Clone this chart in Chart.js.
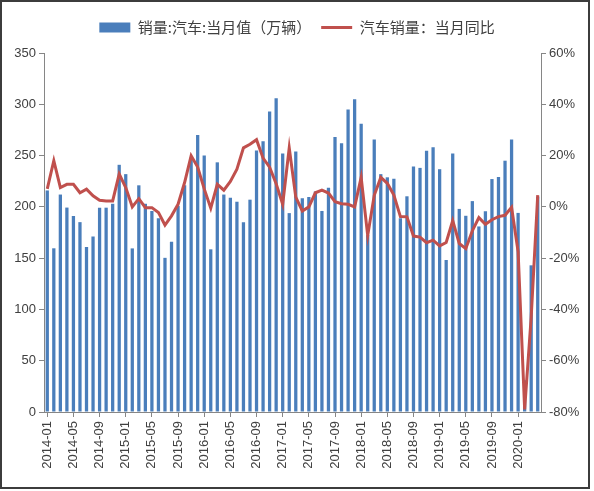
<!DOCTYPE html>
<html>
<head>
<meta charset="utf-8">
<script src="https://cdn.jsdelivr.net/npm/chart.js@4"></script>
<style>
html, body { margin: 0; padding: 0; background: #fff; }
#box { position: absolute; left: 0; top: 0; width: 594px; height: 491px; }
#frame { position: absolute; left: 0; top: 0; width: 590px; height: 489px; box-sizing: border-box; border: 2px solid #3c3c3c; pointer-events: none; }
</style>
</head>
<body>
<div id="box"><canvas id="graf1" width="594" height="491"></canvas></div>
<div id="frame"></div>
<script>
var list_months = [
    '2014-01','2014-02','2014-03','2014-04','2014-05','2014-06','2014-07','2014-08','2014-09','2014-10','2014-11','2014-12',
    '2015-01','2015-02','2015-03','2015-04','2015-05','2015-06','2015-07','2015-08','2015-09','2015-10','2015-11','2015-12',
    '2016-01','2016-02','2016-03','2016-04','2016-05','2016-06','2016-07','2016-08','2016-09','2016-10','2016-11','2016-12',
    '2017-01','2017-02','2017-03','2017-04','2017-05','2017-06','2017-07','2017-08','2017-09','2017-10','2017-11','2017-12',
    '2018-01','2018-02','2018-03','2018-04','2018-05','2018-06','2018-07','2018-08','2018-09','2018-10','2018-11','2018-12',
    '2019-01','2019-02','2019-03','2019-04','2019-05','2019-06','2019-07','2019-08','2019-09','2019-10','2019-11','2019-12',
    '2020-01','2020-02','2020-03','2020-04'
];

// 销量:汽车:当月值（万辆）
var sales_list = [
    216.0, 159.6, 212.0, 199.3, 191.1, 185.1, 160.9, 171.1, 199.2, 199.2, 203.0, 241.0,
    231.9, 159.5, 221.0, 203.0, 196.0, 189.0, 150.3, 166.0, 201.0, 221.0, 248.0, 270.0,
    250.0, 158.6, 243.4, 212.0, 209.0, 205.0, 185.0, 207.0, 255.0, 264.0, 293.0, 306.0,
    252.0, 193.9, 254.0, 208.4, 209.6, 215.0, 196.0, 218.6, 268.0, 262.0, 295.0, 305.0,
    281.0, 172.5, 265.6, 231.9, 228.8, 227.4, 188.9, 210.3, 239.4, 238.0, 254.8, 258.0,
    236.7, 148.2, 252.0, 198.0, 191.3, 205.6, 180.9, 195.8, 227.1, 229.1, 245.0, 265.6,
    194.1, 31.0, 143.0, 210.0
];

// 汽车销量：当月同比 (%)
var yoy_list = [
    7.0, 18.0, 7.5, 8.8, 8.8, 5.5, 6.9, 4.3, 2.6, 2.3, 2.3, 12.8,
    7.5, 0.0, 3.2, -0.3, -0.3, -2.2, -7.1, -3.5, 1.0, 9.5, 19.9, 15.5,
    7.0, -0.5, 8.8, 6.5, 9.9, 14.7, 23.0, 24.4, 26.2, 19.0, 15.5, 9.0,
    1.0, 23.0, 3.8, -1.6, 0.0, 5.5, 6.5, 5.4, 2.0, 1.2, 1.0, 0.0,
    11.5, -11.2, 4.5, 11.5, 9.2, 4.6, -3.8, -3.9, -11.4, -11.8, -14.0, -13.0,
    -15.2, -13.9, -5.4, -14.3, -16.3, -9.4, -4.2, -6.8, -5.0, -3.8, -3.3, -0.2,
    -17.5, -79.0, -43.0, 4.6
];

var axis_grey = '#868686';
var text_grey = '#404040';

Chart.defaults.font.family = '"Liberation Sans", Arial, sans-serif';
Chart.defaults.color = text_grey;

// a bit more room under the legend
var legendGap = {
    id: 'legendGap',
    beforeInit: function(chart) {
        var fit = chart.legend.fit;
        chart.legend.fit = function() {
            fit.bind(chart.legend)();
            this.height += 8;
        };
    }
};

var graf1 = new Chart(document.getElementById('graf1'), {
    type: 'bar',
    data: {
        labels: list_months,
        datasets: [{
            type: 'bar',
            label: '销量:汽车:当月值（万辆）',
            data: sales_list,
            backgroundColor: '#4a7ebb',
            borderWidth: 0,
            barPercentage: 0.5,
            categoryPercentage: 1,
            pointStyle: 'rect',
            yAxisID: 'y',
            order: 1
        }, {
            type: 'line',
            label: '汽车销量：当月同比',
            data: yoy_list,
            borderColor: '#c0504d',
            backgroundColor: '#c0504d',
            borderWidth: 3,
            pointRadius: 0,
            pointStyle: 'line',
            tension: 0,
            fill: false,
            yAxisID: 'y1',
            order: 0
        }]
    },
    options: {
        responsive: false,
        animation: false,
        layout: { padding: { top: 10, left: 0, right: 0, bottom: 0 } },
        plugins: {
            tooltip: { enabled: false },
            legend: {
                position: 'top',
                labels: {
                    usePointStyle: true,
                    pointStyleWidth: 31,
                    boxHeight: 10,
                    padding: 10,
                    color: text_grey,
                    font: { size: 15, family: '"Noto Sans CJK SC", sans-serif' },
                    sort: function(a, b) { return a.datasetIndex - b.datasetIndex; }
                }
            }
        },
        scales: {
            x: {
                offset: true,
                grid: {
                    offset: false,
                    drawOnChartArea: false,
                    tickLength: 5,
                    color: function(ctx) { return ctx.index % 4 === 0 ? axis_grey : 'rgba(0,0,0,0)'; }
                },
                border: { color: axis_grey },
                ticks: {
                    autoSkip: false,
                    maxRotation: 90,
                    minRotation: 90,
                    padding: 4,
                    font: { size: 13 },
                    callback: function(v, i) { return i % 4 === 0 ? this.getLabelForValue(v) : ''; }
                },
                afterFit: function(s) { s.height = 79; }
            },
            y: {
                position: 'left',
                min: 0,
                max: 350,
                ticks: { stepSize: 50, padding: 3, font: { size: 13 } },
                grid: { drawOnChartArea: false, tickLength: 5, color: axis_grey },
                border: { color: axis_grey },
                afterFit: function(s) { s.width = 44; }
            },
            y1: {
                position: 'right',
                min: -80,
                max: 60,
                ticks: {
                    stepSize: 20,
                    padding: 3,
                    font: { size: 13 },
                    callback: function(v) { return v + '%'; }
                },
                grid: { drawOnChartArea: false, tickLength: 5, color: axis_grey },
                border: { color: axis_grey },
                afterFit: function(s) { s.width = 53; }
            }
        }
    },
    plugins: [legendGap]
});
</script>
</body>
</html>
